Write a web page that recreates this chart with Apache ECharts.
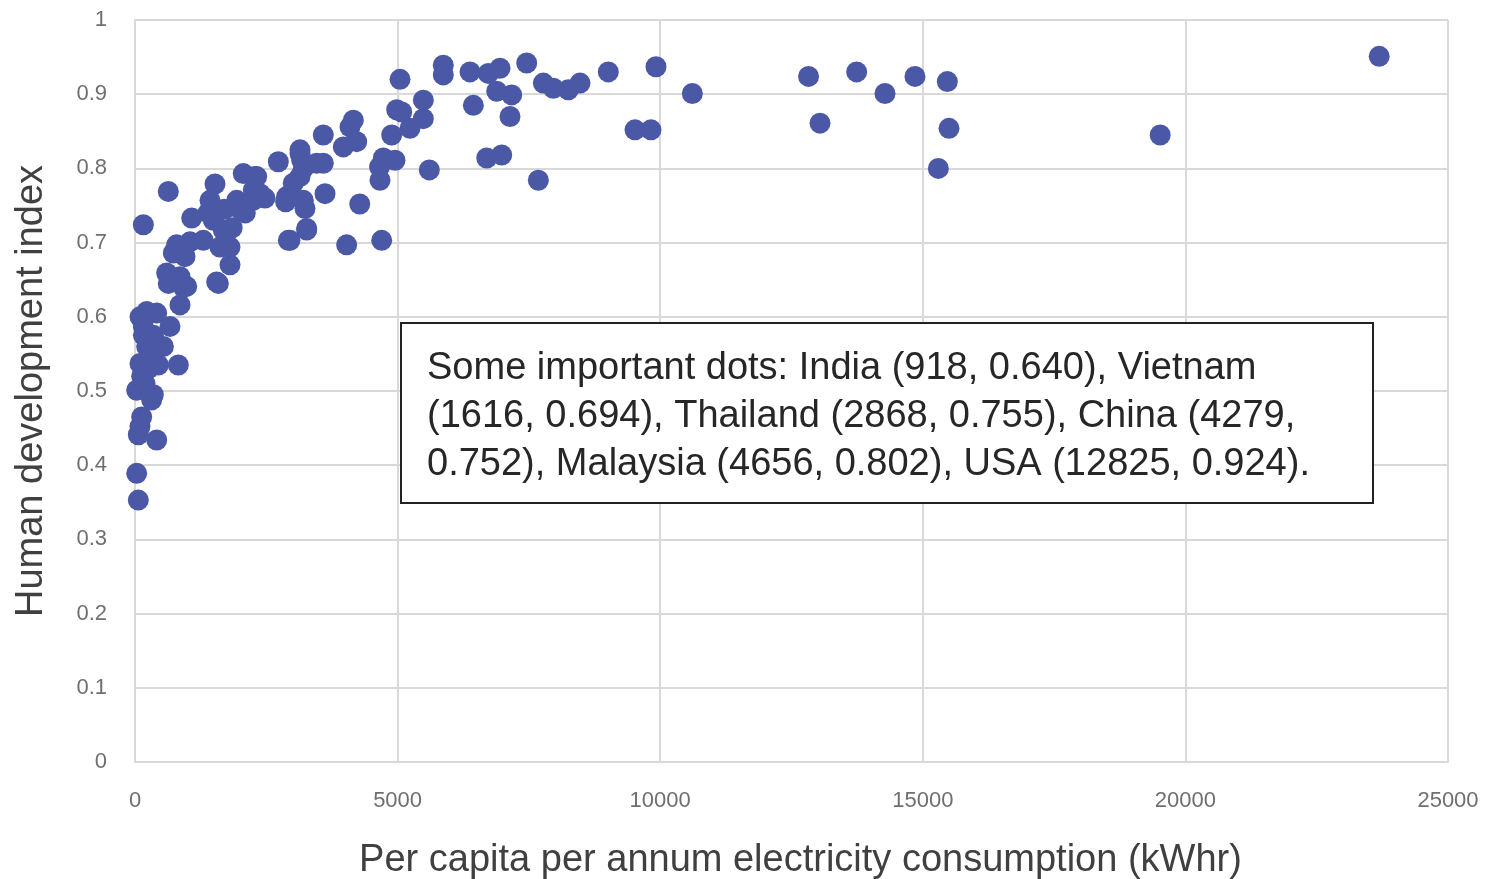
<!DOCTYPE html>
<html>
<head>
<meta charset="utf-8">
<title>HDI vs electricity consumption</title>
<script src="https://cdn.jsdelivr.net/npm/echarts@6/dist/echarts.min.js"></script>
<style>
  html, body { margin: 0; padding: 0; background: #fff; }
  #main { width: 1499px; height: 879px; }
</style>
</head>
<body>
<div id="main"></div>
<script>
// per capita per annum electricity consumption (kWhr)
const consumption = [
  63, 32, 63, 95, 127, 413, 317, 349, 32, 190, 95, 286, 444, 825, 222, 540, 349, 159, 666, 222,
  413, 857, 634, 918, 1587, 127, 254, 160, 95, 300,
  159, 634, 730, 952, 603, 857, 984, 1555, 793, 1047, 1300, 1616, 1809, 1809, 1079, 1491, 1681, 1428, 1523, 1936,
  2062, 2317, 2380, 2888, 3269, 2919, 3142, 3459, 1390, 1850, 2100, 2000, 1700,
  5046, 5870, 5870, 6379, 6727, 6950, 7458, 7775, 6887, 7172, 6442, 7140, 6697, 6982, 7680, 5490, 4983, 5078,
  5490, 5236, 4887, 4728, 4951, 4656, 4665, 5604, 4157, 4094, 4221, 3966, 3585, 3142, 2729, 3585, 3174, 3205,
  3142, 3014, 2285, 2253, 2475, 2868, 3205, 3237, 3618, 4279, 3269, 2951, 4030, 4697, 2250,
  7965, 8250, 8473, 9012, 9920, 9520, 9825, 10612,
  12825, 13043, 13741, 14280, 14851, 15467, 15499, 15296, 19520, 23690
];
// human development index
const hdi = [
  0.353, 0.389, 0.441, 0.452, 0.465, 0.434, 0.488, 0.495, 0.501, 0.510, 0.537, 0.544, 0.535, 0.535, 0.560, 0.560, 0.575, 0.587, 0.587, 0.607,
  0.605, 0.616, 0.645, 0.640, 0.645, 0.520, 0.530, 0.575, 0.600, 0.555,
  0.724, 0.769, 0.686, 0.681, 0.659, 0.654, 0.641, 0.647, 0.697, 0.701, 0.703, 0.694, 0.694, 0.670, 0.733, 0.730, 0.717, 0.757, 0.779, 0.757,
  0.793, 0.789, 0.766, 0.762, 0.719, 0.703, 0.820, 0.807, 0.740, 0.720, 0.740, 0.745, 0.745,
  0.920, 0.939, 0.926, 0.930, 0.928, 0.935, 0.942, 0.915, 0.904, 0.899, 0.885, 0.870, 0.814, 0.818, 0.784, 0.892, 0.879, 0.876,
  0.867, 0.854, 0.845, 0.814, 0.811, 0.802, 0.784, 0.798, 0.865, 0.856, 0.836, 0.829, 0.845, 0.825, 0.809, 0.807, 0.811, 0.800,
  0.789, 0.780, 0.789, 0.771, 0.760, 0.755, 0.757, 0.746, 0.766, 0.752, 0.717, 0.703, 0.697, 0.703, 0.757,
  0.908, 0.906, 0.915, 0.930, 0.937, 0.852, 0.852, 0.901,
  0.924, 0.861, 0.930, 0.901, 0.924, 0.917, 0.854, 0.800, 0.845, 0.951
];
const noteLines = [
  'Some important dots: India (918, 0.640), Vietnam',
  '(1616, 0.694), Thailand (2868, 0.755), China (4279,',
  '0.752), Malaysia (4656, 0.802), USA (12825, 0.924).'
];

const points = consumption.map((x, i) => [x, hdi[i]]);

let myChart = echarts.init(document.getElementById('main'));

const gridColor = '#d9d9d9';
const labelColor = '#6f6f6f';

var option = {
  backgroundColor: '#fff',
  animation: false,
  grid: { left: 135, right: 51, top: 20, bottom: 117, outerBoundsMode: 'none', containLabel: false },
  xAxis: {
    type: 'value',
    min: 0,
    max: 25000,
    interval: 5000,
    name: 'Per capita per annum electricity consumption (kWhr)',
    nameLocation: 'middle',
    nameGap: 80,
    nameTextStyle: { fontFamily: 'Liberation Sans', fontSize: 38, color: '#404040', padding: [0, 0, 0, 18] },
    axisLine: { lineStyle: { color: gridColor, width: 2 } },
    axisTick: { show: false },
    axisLabel: {
      fontFamily: 'Liberation Sans', fontSize: 22, color: labelColor, margin: 28,
      formatter: v => String(v)
    },
    splitLine: { show: true, lineStyle: { color: gridColor, width: 2 } }
  },
  yAxis: {
    type: 'value',
    min: 0,
    max: 1,
    interval: 0.1,
    name: 'Human development index',
    nameLocation: 'middle',
    nameGap: 84,
    nameTextStyle: { fontFamily: 'Liberation Sans', fontSize: 38, color: '#404040' },
    axisLine: { show: true, lineStyle: { color: gridColor, width: 2 } },
    axisTick: { show: false },
    axisLabel: { fontFamily: 'Liberation Sans', fontSize: 22, color: labelColor, margin: 28 },
    splitLine: { show: true, lineStyle: { color: gridColor, width: 2 } }
  },
  series: [
    {
      type: 'scatter',
      data: points,
      symbolSize: 21,
      itemStyle: { color: '#4a58a6', opacity: 1 }
    }
  ],
  graphic: [
    {
      type: 'rect',
      left: 400,
      top: 322,
      shape: { width: 972, height: 180 },
      style: { fill: '#fff', stroke: '#222', lineWidth: 2 },
      z: 100
    },
    {
      type: 'text',
      left: 427,
      top: 345,
      style: {
        text: noteLines.join('\n'),
        fontFamily: 'Liberation Sans',
        fontSize: 38,
        lineHeight: 48,
        fill: '#262626'
      },
      z: 101
    }
  ]
};

myChart.setOption(option);
window.onresize = myChart.resize;
</script>
</body>
</html>
